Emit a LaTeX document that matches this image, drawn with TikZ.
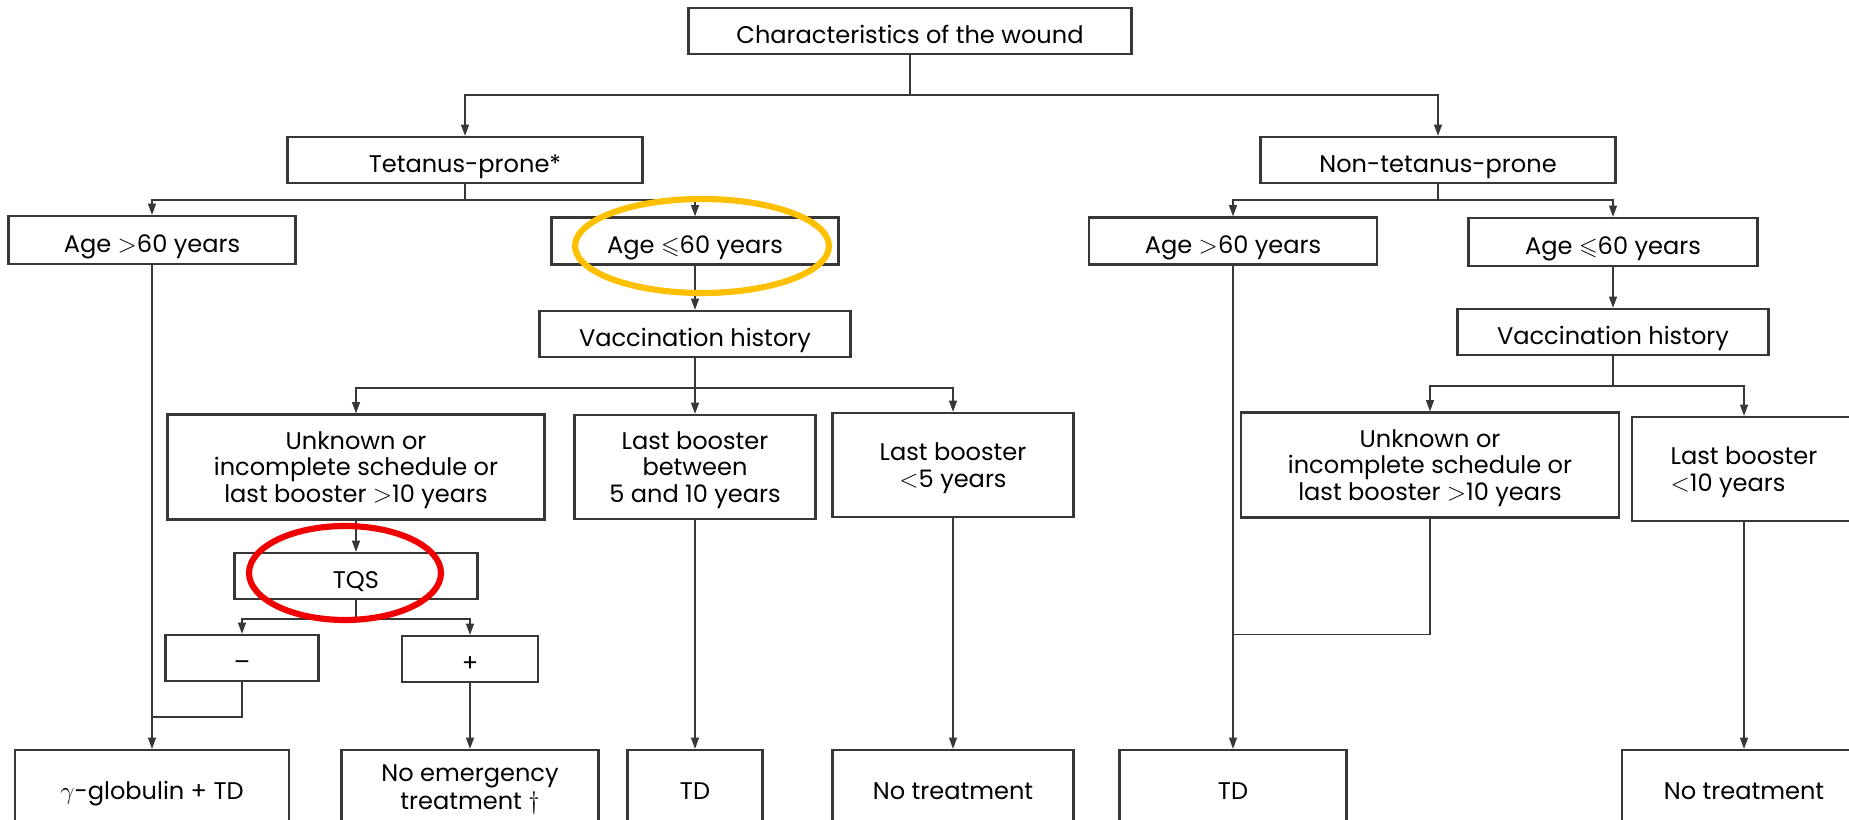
\documentclass[tikz,border=0pt]{standalone}
\usepackage{fontspec}
\setmainfont{Poppins}
\usepackage{amssymb}
\usetikzlibrary{arrows.meta}
\definecolor{linegray}{RGB}{55,55,55}
\definecolor{ringgold}{RGB}{255,192,0}
\definecolor{ringred}{RGB}{240,0,0}

\begin{document}
\begin{tikzpicture}[x=0.02cm, y=-0.02cm,
        box/.style={draw=linegray, line width=1.2pt, align=center, inner sep=0pt,
            text depth=0pt, execute at begin node={\rule{0pt}{14pt}},
            font=\fontsize{13.7}{15.2}\selectfont},
        arr/.style={draw=linegray, line width=1pt, -{Triangle[length=6.5pt, width=4.5pt]}},
        link/.style={draw=linegray, line width=1pt},
        ring/.style={line width=3.5pt}]
        \useasboundingbox (0,0) rectangle (1849,820);
        \clip (0,0) rectangle (1849,820);
        % wound
        \node[box, minimum width=8.86cm, minimum height=0.92cm] (wound) at (910,31) {Characteristics of the wound};
        \node[box, minimum width=7.1cm, minimum height=0.92cm] (prone) at (465,160) {Tetanus-prone*};
        \node[box, minimum width=7.1cm, minimum height=0.92cm] (nonprone) at (1438,160) {Non-tetanus-prone};
        % age
        \node[box, minimum width=5.74cm, minimum height=0.96cm] (oldL) at (152,240) {Age $>$60 years};
        \node[box, minimum width=5.74cm, minimum height=0.94cm] (youngL) at (695,241) {Age $\leqslant$60 years};
        \node[box, minimum width=5.76cm, minimum height=0.94cm] (oldR) at (1233,241) {Age $>$60 years};
        \node[box, minimum width=5.78cm, minimum height=0.96cm] (youngR) at (1613,242) {Age $\leqslant$60 years};
        % vaccination history
        \node[box, minimum width=6.22cm, minimum height=0.92cm] (vaccL) at (695,334) {Vaccination history};
        \node[box, minimum width=6.22cm, minimum height=0.92cm] (vaccR) at (1613,332) {Vaccination history};
        \node[box, minimum width=7.54cm, minimum height=2.1cm] (unknownL) at (356,467) {Unknown or\\incomplete schedule or\\last booster $>$10 years};
        \node[box, minimum width=4.82cm, minimum height=2.08cm] (betweenL) at (695,467) {Last booster\\between\\5 and 10 years};
        \node[box, minimum width=4.82cm, minimum height=2.08cm] (recentL) at (953,465) {Last booster\\$<$5 years};
        \node[box, minimum width=7.56cm, minimum height=2.1cm] (unknownR) at (1430,465) {Unknown or\\incomplete schedule or\\last booster $>$10 years};
        \node[box, align=left, minimum width=4.48cm, minimum height=2.08cm] (recentR) at (1744,469) {Last booster\\$<$10 years};
        % TQS
        \node[box, minimum width=4.86cm, minimum height=0.92cm] (tqs) at (356,576) {TQS};
        \node[box, minimum width=3.06cm, minimum height=0.92cm] (neg) at (242,658) {–};
        \node[box, minimum width=2.72cm, minimum height=0.92cm] (pos) at (470,659) {+};
        % treatment
        \node[box, minimum width=5.48cm, minimum height=1.48cm] (gamma) at (152,787) {$\gamma$-globulin + TD};
        \node[box, minimum width=5.14cm, minimum height=1.48cm] (noemerg) at (470,787) {No emergency\\[1pt]treatment $\dagger$};
        \node[box, minimum width=2.7cm, minimum height=1.48cm] (tdL) at (695,787) {TD};
        \node[box, minimum width=4.82cm, minimum height=1.48cm] (notreatL) at (953,787) {No treatment};
        \node[box, minimum width=4.54cm, minimum height=1.48cm] (tdR) at (1233,787) {TD};
        \node[box, minimum width=4.88cm, minimum height=1.48cm] (notreatR) at (1744,787) {No treatment};
        % connectors
        \draw[arr] (wound.south) -- ++(0,40) coordinate (woundfork) -| (prone.north);
        \draw[arr] (woundfork) -| (nonprone.north);
        \draw[arr] (prone.south) -- ++(0,16) coordinate (pronefork) -| (oldL.north);
        \draw[arr] (pronefork) -| (youngL.north);
        \draw[arr] (nonprone.south) -- ++(0,16) coordinate (nonpronefork) -| (oldR.north);
        \draw[arr] (nonpronefork) -| (youngR.north);
        \draw[arr] (youngL) -- (vaccL);
        \draw[arr] (youngR) -- (vaccR);
        \draw[arr] (vaccL.south) -- ++(0,30) coordinate (vaccLfork) -| (unknownL.north);
        \draw[arr] (vaccLfork) -- (betweenL.north);
        \draw[arr] (vaccLfork) -| (recentL.north);
        \draw[arr] (vaccR.south) -- ++(0,30) coordinate (vaccRfork) -| (unknownR.north);
        \draw[arr] (vaccRfork) -| (recentR.north);
        \draw[arr] (unknownL) -- (tqs);
        \draw[arr] (tqs.south) -- ++(0,19) coordinate (tqsfork) -| (neg.north);
        \draw[arr] (tqsfork) -| (pos.north);
        \draw[arr] (oldL) -- (gamma);
        \draw[link] (neg.south) -- ++(0,35) coordinate (negjoin) -- (negjoin -| oldL);
        \draw[arr] (pos) -- (noemerg);
        \draw[arr] (betweenL) -- (tdL);
        \draw[arr] (recentL) -- (notreatL);
        \draw[arr] (oldR) -- (tdR);
        \draw[link] (unknownR.south) -- ++(0,116) coordinate (unknownRjoin) -- (unknownRjoin -| oldR);
        \draw[arr] (recentR) -- (notreatR);
        % rings
        \draw[ringgold, ring] (702,246) ellipse [x radius=2.54cm, y radius=0.94cm];
        \draw[ringred, ring] (345,573) ellipse [x radius=1.92cm, y radius=0.94cm];
    \end{tikzpicture}
\end{document}
